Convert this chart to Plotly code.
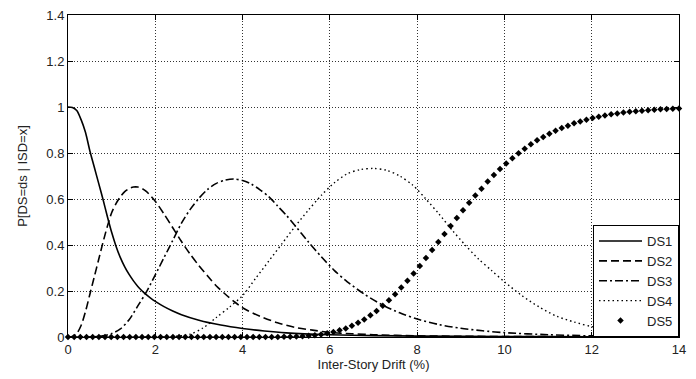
import numpy as np
import plotly.graph_objects as go

# ---- data ----
x_ds1 = [0, 0.1, 0.2, 0.3, 0.4, 0.5, 0.6, 0.7, 0.8, 0.9, 1.0, 1.1, 1.2, 1.3, 1.4, 1.5, 1.6, 1.7, 1.8, 1.9,
         2.0, 2.2, 2.4, 2.6, 3.0, 3.5, 4.0, 4.5, 5.0, 6.0, 7.0, 8.0, 10.0, 12.0, 14.0]
ds1 = [1.0, 0.998, 0.985, 0.945, 0.89, 0.81, 0.74, 0.67, 0.60, 0.525, 0.455, 0.395, 0.345, 0.305, 0.272,
       0.244, 0.22, 0.20, 0.183, 0.168, 0.155, 0.132, 0.113, 0.097, 0.073, 0.052, 0.037, 0.026, 0.018,
       0.01, 0.006, 0.004, 0.002, 0.001, 0.0005]

x_ds2 = [0, 0.1, 0.2, 0.3, 0.4, 0.5, 0.6, 0.7, 0.8, 0.9, 1.0, 1.1, 1.2, 1.3, 1.4, 1.5, 1.6, 1.7, 1.8, 2.0,
         2.2, 2.4, 2.6, 2.8, 3.0, 3.2, 3.4, 3.6, 3.8, 4.0, 4.4, 4.8, 5.2, 5.6, 6.0, 6.5, 7.0, 8.0, 9.0, 10.0,
         12.0, 14.0]
ds2 = [0, 0.002, 0.015, 0.05, 0.11, 0.185, 0.26, 0.335, 0.41, 0.48, 0.54, 0.58, 0.61, 0.632, 0.645, 0.652,
       0.652, 0.645, 0.632, 0.59, 0.535, 0.475, 0.415, 0.36, 0.31, 0.265, 0.222, 0.187, 0.155, 0.127,
       0.09, 0.062, 0.042, 0.03, 0.02, 0.014, 0.01, 0.005, 0.003, 0.002, 0.001, 0.0005]

x_ds3 = [0, 0.4, 0.6, 0.8, 1.0, 1.2, 1.4, 1.6, 1.8, 2.0, 2.2, 2.4, 2.6, 2.8, 3.0, 3.2, 3.4, 3.6, 3.8, 4.0,
         4.2, 4.4, 4.6, 4.8, 5.0, 5.2, 5.5, 5.8, 6.1, 6.4, 6.8, 7.2, 7.6, 8.0, 8.5, 9.0, 9.5, 10.0, 11.0,
         12.0, 13.0, 14.0]
ds3 = [0, 0, 0.001, 0.005, 0.015, 0.035, 0.075, 0.135, 0.197, 0.27, 0.345, 0.42, 0.495, 0.555, 0.603,
       0.642, 0.668, 0.682, 0.687, 0.68, 0.665, 0.64, 0.61, 0.57, 0.53, 0.485, 0.415, 0.35, 0.29, 0.24,
       0.185, 0.14, 0.105, 0.078, 0.054, 0.038, 0.027, 0.019, 0.01, 0.005, 0.003, 0.002]

x_ds4 = [0, 2.0, 2.4, 2.8, 3.1, 3.4, 3.7, 4.0, 4.3, 4.6, 4.9, 5.2, 5.5, 5.8, 6.1, 6.4, 6.7, 7.0, 7.3, 7.6,
         7.9, 8.2, 8.5, 8.8, 9.1, 9.4, 9.7, 10.0, 10.4, 10.8, 11.2, 11.6, 12.0, 12.5, 13.0, 13.5, 14.0]
ds4 = [0, 0, 0.002, 0.012, 0.04, 0.085, 0.13, 0.18, 0.255, 0.33, 0.405, 0.48, 0.55, 0.615, 0.67, 0.71,
       0.728, 0.733, 0.725, 0.70, 0.66, 0.60, 0.535, 0.465, 0.40, 0.34, 0.29, 0.24, 0.18, 0.13, 0.09,
       0.065, 0.045, 0.03, 0.02, 0.014, 0.01]

# DS5 sampled on the 100-point drift grid used for the markers
x_ds5 = np.linspace(0, 14, 100)
ds5 = [0] * 35 + [
    0.001, 0.0014, 0.0023, 0.0036, 0.0054, 0.008, 0.011, 0.016, 0.022, 0.029,
    0.0375, 0.0485, 0.062, 0.076, 0.095, 0.113, 0.136, 0.160, 0.186, 0.215,
    0.245, 0.276, 0.309, 0.343, 0.378, 0.413, 0.448, 0.483, 0.517, 0.551,
    0.584, 0.615, 0.645, 0.676, 0.704, 0.730, 0.754, 0.777, 0.799, 0.819,
    0.838, 0.855, 0.870, 0.884, 0.897, 0.909, 0.919, 0.929, 0.937, 0.945,
    0.952, 0.958, 0.963, 0.968, 0.972, 0.976, 0.979, 0.982, 0.984, 0.986,
    0.988, 0.990, 0.991, 0.9925, 0.9936]

x_ticks = [0, 2, 4, 6, 8, 10, 12, 14]
y_ticks = [0, 0.2, 0.4, 0.6, 0.8, 1, 1.2, 1.4]
y_tick_text = ["0", "0.2", "0.4", "0.6", "0.8", "1", "1.2", "1.4"]

fig = go.Figure()
line_kw = dict(shape="spline", smoothing=0.8, color="black")
fig.add_trace(go.Scatter(x=x_ds1, y=ds1, mode="lines", name="DS1",
                         line=dict(width=1.6, dash="solid", **line_kw)))
fig.add_trace(go.Scatter(x=x_ds2, y=ds2, mode="lines", name="DS2",
                         line=dict(width=1.6, dash="8px,4px", **line_kw)))
fig.add_trace(go.Scatter(x=x_ds3, y=ds3, mode="lines", name="DS3",
                         line=dict(width=1.6, dash="8px,3px,2px,3px", **line_kw)))
fig.add_trace(go.Scatter(x=x_ds4, y=ds4, mode="lines", name="DS4",
                         line=dict(width=1.4, dash="1.5px,3px", **line_kw)))
fig.add_trace(go.Scatter(x=x_ds5, y=ds5, mode="markers", name="DS5", cliponaxis=False,
                         marker=dict(symbol="diamond", size=5, color="black")))

axis_common = dict(showline=True, linecolor="black", linewidth=1, mirror="ticks",
                   ticks="inside", ticklen=5, tickcolor="black", automargin=False,
                   ticklabeloverflow="allow",
                   showgrid=True, gridcolor="#333", gridwidth=1, griddash="1px,2px",
                   zeroline=False, tickfont=dict(family="Liberation Sans, Arial", size=13, color="#222"))

# the page body has an 8px default margin: figure is 8px smaller, left/top margins shifted
fig.update_layout(
    width=688, height=371,
    margin=dict(l=60, r=17, t=7, b=42),
    paper_bgcolor="white", plot_bgcolor="white",
    font=dict(family="Liberation Sans, Arial", size=13, color="#222"),
    xaxis=dict(range=[0, 14], tickvals=x_ticks, ticktext=[str(v) for v in x_ticks],
               title=dict(text="Inter-Story Drift (%)", standoff=4,
                          font=dict(size=13, color="#222")), **axis_common),
    yaxis=dict(range=[0, 1.4], tickvals=y_ticks, ticktext=y_tick_text,
               title=dict(text="P[DS=ds | ISD=x]", standoff=15,
                          font=dict(size=13, color="#222")), **axis_common),
    legend=dict(x=1, y=0, xanchor="right", yanchor="bottom", bgcolor="white",
                bordercolor="black", borderwidth=1, font=dict(size=13, color="#222"),
                itemwidth=43, tracegroupgap=0),
    showlegend=True,
)

fig.write_html("out.html")
